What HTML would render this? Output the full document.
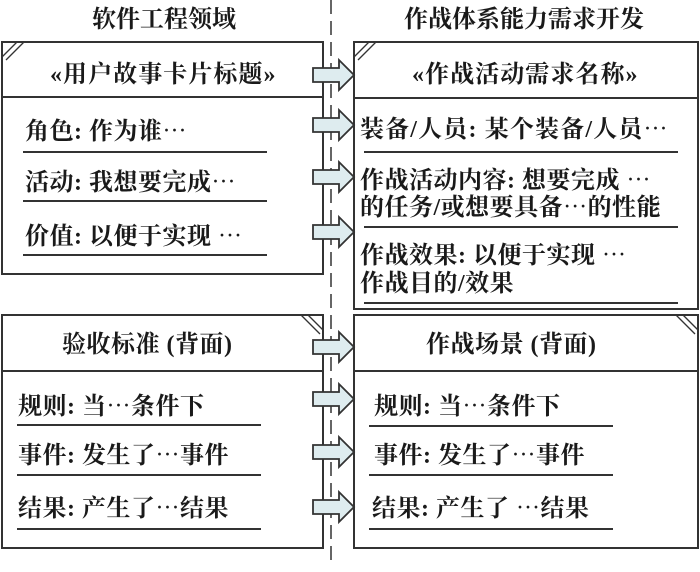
<!DOCTYPE html>
<html><head><meta charset="utf-8"><style>
html,body{margin:0;padding:0;background:#fff}
svg text{font-family:"Liberation Serif","Noto Serif CJK SC",serif;font-size:24px;fill:#1a1a1a;font-weight:bold;letter-spacing:0.5px}
svg text.h{font-size:24px;letter-spacing:0}
</style></head><body>
<svg width="700" height="567" viewBox="0 0 700 567" xmlns="http://www.w3.org/2000/svg">
<g stroke="#333" stroke-width="2" fill="none">
<line x1="331" y1="0" x2="331" y2="567" stroke-dasharray="14,7" stroke-width="1.5"/>
<rect x="2" y="42" width="321" height="232" fill="#fff"/>
<line x1="2" y1="97" x2="323" y2="97"/>
<line x1="2" y1="57" x2="17" y2="42" stroke-width="1.3"/><line x1="6" y1="60" x2="24" y2="42" stroke-width="1.3"/>
<line x1="23" y1="152" x2="267" y2="152"/><line x1="23" y1="201" x2="267" y2="201"/><line x1="23" y1="255" x2="267" y2="255"/>
<rect x="354" y="42" width="344" height="267" fill="#fff"/>
<line x1="354" y1="98" x2="698" y2="98"/>
<line x1="354" y1="57" x2="369" y2="42" stroke-width="1.3"/><line x1="358" y1="60" x2="376" y2="42" stroke-width="1.3"/>
<line x1="364" y1="152" x2="678" y2="152"/><line x1="364" y1="227" x2="678" y2="227"/><line x1="364" y1="303" x2="678" y2="303"/>
<rect x="2" y="315" width="321" height="233" fill="#fff"/>
<line x1="2" y1="371" x2="323" y2="371"/>
<line x1="308" y1="315" x2="323" y2="330" stroke-width="1.3"/><line x1="301" y1="315" x2="320" y2="334" stroke-width="1.3"/>
<line x1="17" y1="425" x2="261" y2="425"/><line x1="17" y1="475" x2="261" y2="475"/><line x1="17" y1="529" x2="261" y2="529"/>
<rect x="354" y="315" width="344" height="233" fill="#fff"/>
<line x1="354" y1="371" x2="698" y2="371"/>
<line x1="683" y1="315" x2="698" y2="330" stroke-width="1.3"/><line x1="676" y1="315" x2="695" y2="334" stroke-width="1.3"/>
<line x1="369" y1="426" x2="613" y2="426"/><line x1="369" y1="475" x2="613" y2="475"/><line x1="369" y1="529" x2="613" y2="529"/>
</g>
<g fill="#deecef" stroke="#333" stroke-width="1.8">
<path d="M313,68 L339,68 L339,60 L354,75 L339,90 L339,82 L313,82 Z"/>
<path d="M313,118 L339,118 L339,110 L354,125 L339,140 L339,132 L313,132 Z"/>
<path d="M313,170 L339,170 L339,162 L354,177 L339,192 L339,184 L313,184 Z"/>
<path d="M313,225 L339,225 L339,217 L354,232 L339,247 L339,239 L313,239 Z"/>
<path d="M313,340 L339,340 L339,332 L354,347 L339,362 L339,354 L313,354 Z"/>
<path d="M313,392 L339,392 L339,384 L354,399 L339,414 L339,406 L313,406 Z"/>
<path d="M313,445 L339,445 L339,437 L354,452 L339,467 L339,459 L313,459 Z"/>
<path d="M313,500 L339,500 L339,492 L354,507 L339,522 L339,514 L313,514 Z"/>
</g>
<text class="h" x="92" y="27">软件工程领域</text>
<text class="h" x="404" y="27">作战体系能力需求开发</text>
<text x="50" y="82" textLength="226">«用户故事卡片标题»</text>
<text x="25" y="139">角色: 作为谁⋯</text>
<text x="25" y="190">活动: 我想要完成⋯</text>
<text x="25" y="244">价值: 以便于实现 ⋯</text>
<text x="412" y="82" textLength="226">«作战活动需求名称»</text>
<text x="360" y="137" textLength="308">装备/人员: 某个装备/人员⋯</text>
<text x="360" y="188">作战活动内容: 想要完成 ⋯</text>
<text x="360" y="215">的任务/或想要具备⋯的性能</text>
<text x="360" y="263">作战效果: 以便于实现 ⋯</text>
<text x="360" y="291">作战目的/效果</text>
<text x="62" y="352">验收标准 (背面)</text>
<text x="18" y="414">规则: 当⋯条件下</text>
<text x="18" y="463">事件: 发生了⋯事件</text>
<text x="18" y="516">结果: 产生了⋯结果</text>
<text x="426" y="352">作战场景 (背面)</text>
<text x="374" y="414">规则: 当⋯条件下</text>
<text x="374" y="463">事件: 发生了⋯事件</text>
<text x="372" y="516">结果: 产生了 ⋯结果</text>
</svg>
</body></html>
